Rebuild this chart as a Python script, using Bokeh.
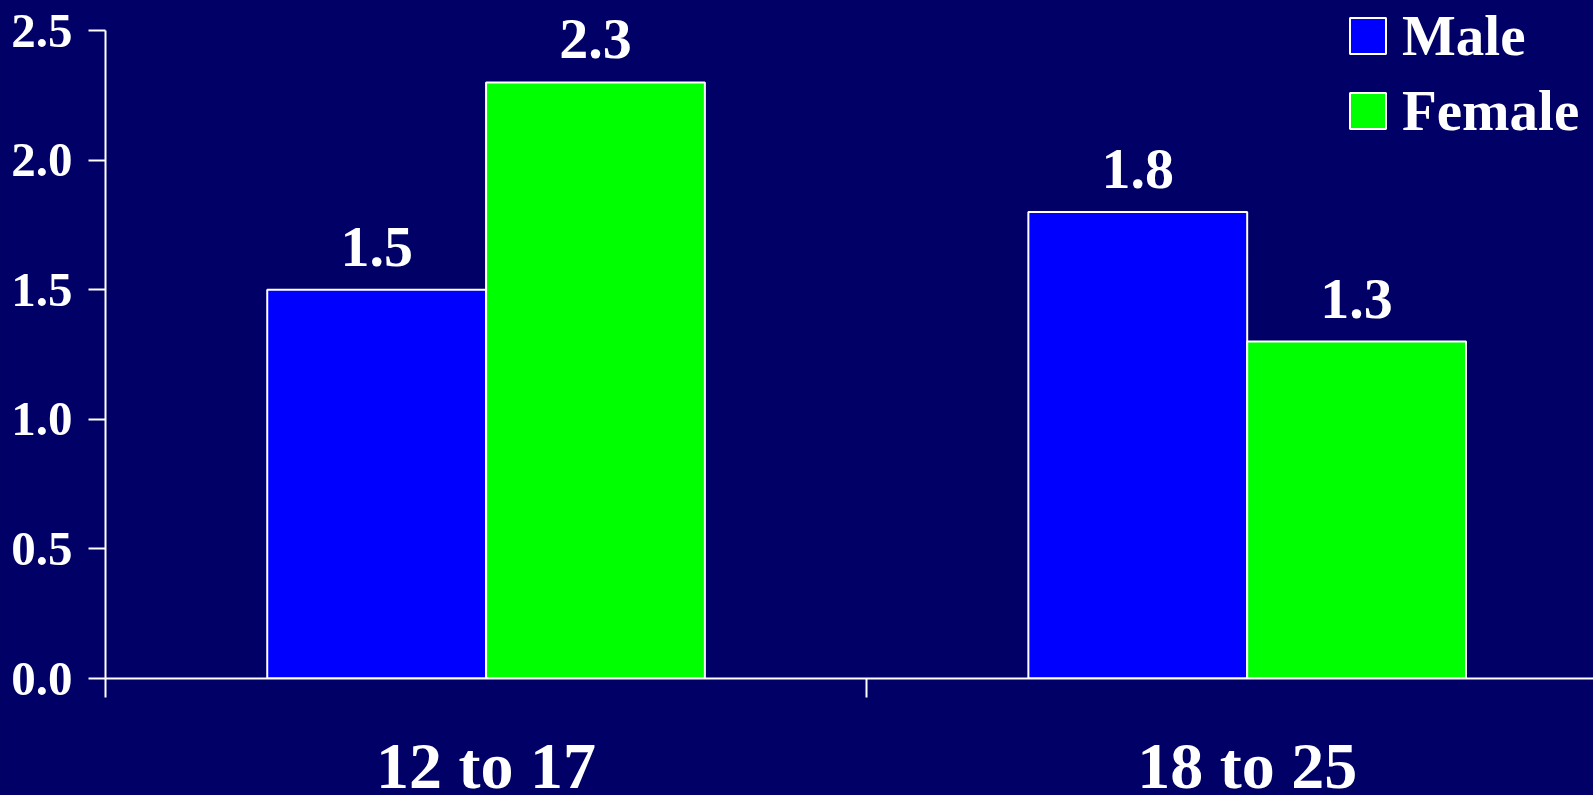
from bokeh.plotting import figure
from bokeh.layouts import column
from bokeh.models import Range1d, FixedTicker, Legend, LegendItem, ColumnDataSource
from bokeh.embed import file_html
from bokeh.resources import INLINE
from bokeh.core.properties import value

# ---- data ----
categories = ["12 to 17", "18 to 25"]
series = ["Male", "Female"]
male = [1.5, 1.8]
female = [2.3, 1.3]
colors = ["#0000FF", "#00FF00"]
y_ticks = [0.0, 0.5, 1.0, 1.5, 2.0, 2.5]
y_tick_labels = ["0.0", "0.5", "1.0", "1.5", "2.0", "2.5"]

BG = "#000066"
FONT = "Liberation Serif"
W = 1593
H_MAIN = 708
H_LAB = 87
BAR_W = 0.2875
DODGE = 0.14375

xr = Range1d(0, 1.955)
p = figure(width=W, height=H_MAIN, output_backend="svg", toolbar_location=None,
           x_range=xr, y_range=Range1d(0, 2.616),
           min_border_left=105, min_border_right=0, min_border_top=0, min_border_bottom=30)
p.background_fill_color = BG
p.border_fill_color = BG
p.outline_line_color = None
p.grid.visible = False

centers = [i + 0.5 for i in range(len(categories))]
renderers = []
for vals, col, off in [(male, colors[0], -DODGE), (female, colors[1], DODGE)]:
    src = ColumnDataSource(dict(x=[c + off for c in centers], top=vals,
                                lab=[f"{v:.1f}" for v in vals]))
    r = p.vbar(x="x", top="top", width=BAR_W, bottom=0, source=src,
               fill_color=col, line_color="white", line_width=2)
    renderers.append(r)
    p.text(x="x", y="top", text="lab", source=src, y_offset=-43,
           text_align="center", text_baseline="alphabetic",
           text_font=value(FONT), text_font_style="bold",
           text_font_size="58px", text_color="white")

# y axis
ya = p.yaxis[0]
ya.ticker = FixedTicker(ticks=y_ticks)
ya.major_label_overrides = {t: l for t, l in zip(y_ticks, y_tick_labels)}
ya.bounds = (0, 2.5)
ya.axis_line_color = "white"
ya.axis_line_width = 2
ya.major_tick_line_color = "white"
ya.major_tick_line_width = 2
ya.major_tick_out = 17
ya.major_tick_in = 0
ya.minor_tick_line_color = None
ya.major_label_standoff = 16
ya.major_label_text_font = FONT
ya.major_label_text_font_style = "bold"
ya.major_label_text_font_size = "49px"
ya.major_label_text_color = "white"

# x axis: separators between categories as ticks
xa = p.xaxis[0]
xa.ticker = FixedTicker(ticks=[], minor_ticks=[0, 1, 2])
xa.axis_line_color = "white"
xa.axis_line_width = 2
xa.major_tick_line_color = None
xa.minor_tick_line_color = "white"
xa.minor_tick_line_width = 2
xa.minor_tick_out = 19
xa.minor_tick_in = 0
xa.major_label_text_font_size = "0px"

legend = Legend(items=[LegendItem(label=s, renderers=[r]) for s, r in zip(series, renderers)],
                location=(1240, 535), orientation="vertical",
                glyph_width=45, glyph_height=45, label_standoff=12,
                label_text_font=FONT, label_text_font_style="bold",
                label_text_font_size="57px", label_text_color="white",
                spacing=10, padding=0, margin=0,
                border_line_color=None, background_fill_alpha=0)
p.add_layout(legend)

# category labels strip below the axis, sharing the x range
p2 = figure(width=W, height=H_LAB, output_backend="svg", toolbar_location=None,
            x_range=xr, y_range=Range1d(0, H_LAB),
            x_axis_location=None, y_axis_location=None,
            min_border_left=105, min_border_right=0, min_border_top=0, min_border_bottom=0)
p2.background_fill_color = BG
p2.border_fill_color = BG
p2.outline_line_color = None
p2.grid.visible = False
p2.text(x=centers, y=[30] * len(centers), text=categories,
        text_align="center", text_baseline="alphabetic",
        text_font=value(FONT), text_font_style="bold",
        text_font_size="66px", text_color="white")

layout = column(p, p2, spacing=0)
layout.background = BG

html = file_html(layout, INLINE)
html = html.replace("</head>", "<style>body{background-color:#000066;}</style></head>", 1)
open("out.html", "w").write(html)
